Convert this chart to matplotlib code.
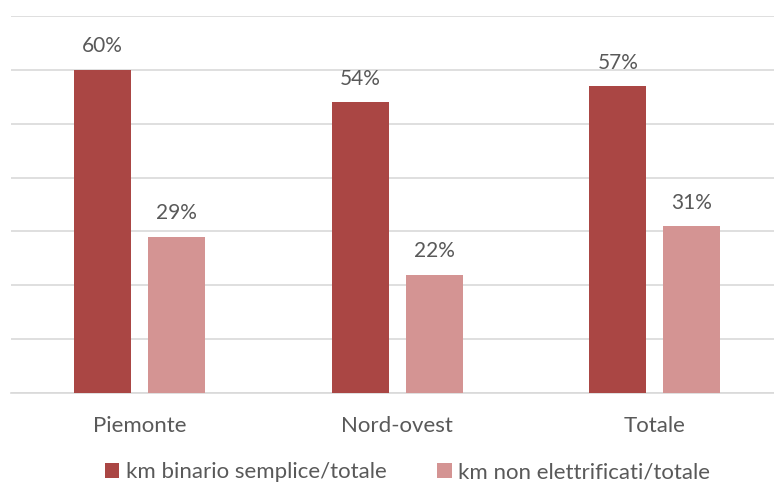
import numpy as np
import matplotlib.pyplot as plt

categories = ["Piemonte", "Nord-ovest", "Totale"]
binario_semplice = [0.60, 0.54, 0.57]
non_elettrificati = [0.29, 0.22, 0.31]
series_names = ["km binario semplice/totale", "km non elettrificati/totale"]

dark = "#AA4644"
light = "#D49493"
txt = "#595959"

plt.rcParams['font.family'] = ['Lato', 'DejaVu Sans']

fig = plt.figure(figsize=(7.74, 4.86), dpi=100)
# plot area: left edge ~10px, top gridline y=16, baseline y=393
ax = fig.add_axes([10.75 / 774, 1 - 393 / 486, (783.75 - 10.75) / 774, (393 - 16) / 486])

x = np.arange(len(categories))
w = 0.221
off = 0.1437
b1 = ax.bar(x - off, binario_semplice, w, color=dark, label=series_names[0], zorder=3)
b2 = ax.bar(x + off, non_elettrificati, w, color=light, label=series_names[1], zorder=3)

for bars, vals in ((b1, binario_semplice), (b2, non_elettrificati)):
    for r, v in zip(bars, vals):
        ax.text(r.get_x() + r.get_width() / 2, v + 0.025, f"{v:.0%}",
                ha="center", va="bottom", fontsize=15, color=txt)

ax.set_xlim(-0.5, 2.5)
ax.set_ylim(0, 0.7)
ax.set_yticks(np.arange(0, 0.71, 0.1))
ax.yaxis.grid(True, color="#D9D9D9", linewidth=1.2, zorder=0)
ax.set_yticklabels([])
ax.tick_params(axis="y", length=0)
ax.set_xticks(x)
ax.set_xticklabels(categories, fontsize=16, color=txt)
ax.tick_params(axis="x", length=0, pad=16.5)
for s in ("top", "right", "left"):
    ax.spines[s].set_visible(False)
ax.spines["bottom"].set_color("#D9D9D9")
ax.spines["bottom"].set_linewidth(1.2)

fig.legend(loc="center", bbox_to_anchor=(0.5265, 0.028), ncol=2, frameon=False,
           fontsize=16, handlelength=0.64, handleheight=0.64, handletextpad=0.3,
           columnspacing=2.3, labelcolor=txt, borderaxespad=0, borderpad=0)

fig.savefig("out.png", dpi=100)
